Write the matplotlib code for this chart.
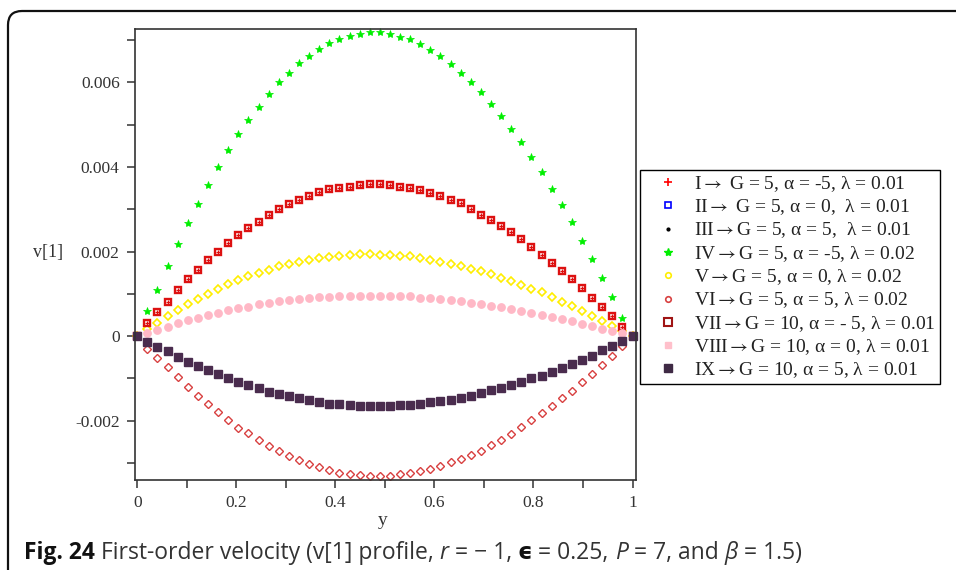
import numpy as np
import matplotlib
matplotlib.use("Agg")
import matplotlib.pyplot as plt
from matplotlib.lines import Line2D
from matplotlib.patches import PathPatch
from matplotlib.path import Path

plt.rcParams['font.family'] = ['Liberation Serif', 'DejaVu Serif']
plt.rcParams['mathtext.fontset'] = 'stix'

# y grid used by the solver (50 points on [0, 1])
y = np.linspace(0, 1, 50)

# v[1] values, in units of 1e-3
v_iv = np.array([0, 0.59, 1.08, 1.66, 2.18, 2.67, 3.13, 3.57, 4.00, 4.40,
                 4.79, 5.11, 5.43, 5.73, 6.00, 6.22, 6.45, 6.63, 6.79, 6.93,
                 7.02, 7.11, 7.15, 7.19, 7.19, 7.15, 7.08, 7.02, 6.90, 6.77,
                 6.63, 6.44, 6.23, 6.00, 5.77, 5.49, 5.21, 4.90, 4.58, 4.23,
                 3.87, 3.48, 3.09, 2.71, 2.24, 1.82, 1.37, 0.93, 0.42, 0]) * 1e-3
v_vii = np.array([0, 0.31, 0.56, 0.81, 1.10, 1.35, 1.57, 1.79, 2.00, 2.21,
                  2.40, 2.56, 2.71, 2.87, 3.01, 3.12, 3.23, 3.32, 3.41, 3.48,
                  3.51, 3.53, 3.57, 3.60, 3.60, 3.57, 3.53, 3.51, 3.45, 3.38,
                  3.31, 3.23, 3.15, 3.01, 2.86, 2.75, 2.61, 2.45, 2.30, 2.11,
                  1.92, 1.73, 1.55, 1.35, 1.13, 0.91, 0.69, 0.47, 0.21, 0]) * 1e-3
v_v = np.array([0, 0.16, 0.31, 0.47, 0.61, 0.76, 0.88, 0.99, 1.11, 1.22,
                1.33, 1.41, 1.50, 1.57, 1.66, 1.70, 1.76, 1.81, 1.85, 1.87,
                1.89, 1.92, 1.93, 1.93, 1.92, 1.92, 1.90, 1.89, 1.85, 1.81,
                1.76, 1.71, 1.66, 1.59, 1.54, 1.46, 1.38, 1.30, 1.21, 1.11,
                1.03, 0.92, 0.80, 0.71, 0.59, 0.47, 0.36, 0.24, 0.12, 0]) * 1e-3
v_viii = np.array([0, 0.08, 0.14, 0.21, 0.30, 0.37, 0.43, 0.49, 0.55, 0.61,
                   0.66, 0.69, 0.75, 0.79, 0.82, 0.85, 0.88, 0.90, 0.92, 0.93,
                   0.94, 0.95, 0.95, 0.95, 0.95, 0.95, 0.95, 0.94, 0.91, 0.89,
                   0.88, 0.85, 0.82, 0.79, 0.76, 0.72, 0.69, 0.65, 0.59, 0.55,
                   0.50, 0.45, 0.40, 0.35, 0.28, 0.23, 0.17, 0.12, 0.06, 0]) * 1e-3
v_ix = np.array([0, -0.14, -0.27, -0.36, -0.49, -0.62, -0.71, -0.80, -0.91, -1.00,
                 -1.10, -1.16, -1.22, -1.32, -1.38, -1.41, -1.47, -1.51, -1.57, -1.60,
                 -1.60, -1.63, -1.66, -1.66, -1.66, -1.65, -1.63, -1.63, -1.60, -1.57,
                 -1.54, -1.51, -1.47, -1.41, -1.35, -1.28, -1.22, -1.16, -1.10, -0.99,
                 -0.94, -0.85, -0.75, -0.66, -0.56, -0.47, -0.34, -0.24, -0.12, 0]) * 1e-3
v_vi = np.array([0, -0.30, -0.53, -0.74, -0.98, -1.20, -1.41, -1.62, -1.81, -1.98,
                 -2.17, -2.30, -2.46, -2.60, -2.72, -2.83, -2.93, -3.02, -3.11, -3.17,
                 -3.24, -3.26, -3.29, -3.31, -3.31, -3.31, -3.27, -3.25, -3.20, -3.15,
                 -3.08, -2.99, -2.91, -2.82, -2.71, -2.58, -2.45, -2.31, -2.15, -1.99,
                 -1.82, -1.65, -1.46, -1.30, -1.09, -0.91, -0.69, -0.48, -0.24, 0]) * 1e-3
# I, II and III sit on top of VII in the picture
v_i = v_vii
v_ii = v_vii
v_iii = v_vii

arr = r"$\rightarrow$"
labels = ["I" + arr + " G = 5, \u03b1 = -5, \u03bb = 0.01",
          "II" + arr + " G = 5, \u03b1 = 0,  \u03bb = 0.01",
          "III" + arr + "G = 5, \u03b1 = 5,  \u03bb = 0.01",
          "IV" + arr + "G = 5, \u03b1 = -5, \u03bb = 0.02",
          "V" + arr + "G = 5, \u03b1 = 0, \u03bb = 0.02",
          "VI" + arr + "G = 5, \u03b1 = 5, \u03bb = 0.02",
          "VII" + arr + "G = 10, \u03b1 = - 5, \u03bb = 0.01",
          "VIII" + arr + "G = 10, \u03b1 = 0, \u03bb = 0.01",
          "IX" + arr + "G = 10, \u03b1 = 5, \u03bb = 0.01"]

xticks = [0, 0.2, 0.4, 0.6, 0.8, 1]
xticklabels = ["0", "0.2", "0.4", "0.6", "0.8", "1"]
yticks = [-0.002, 0, 0.002, 0.004, 0.006]
yticklabels = ["-0.002", "0", "0.002", "0.004", "0.006"]

fig = plt.figure(figsize=(9.56, 5.70), dpi=100)
ax = fig.add_axes([135 / 956, 1 - 480 / 570, 501 / 956, 451 / 570])

red = '#dd1111'
kw = dict(linestyle='none', clip_on=False)
ax.plot(y, v_ii, marker='s', ms=3, mfc='none', mec='blue', mew=1, **kw)
ax.plot(y, v_iii, marker='.', ms=3, color='black', **kw)
ax.plot(y, v_iv, marker='*', ms=6, color='#00ee00', mew=0.5, **kw)
ax.plot(y, v_v, marker='D', ms=3.8, mfc='none', mec='#ffee00', mew=1.2, **kw)
ax.plot(y, v_vi, marker='D', ms=3.6, mfc='none', mec='#d84040', mew=1.0, **kw)
ax.plot(y, v_vii, marker='s', ms=4.5, mfc='white', mec=red, mew=1.7, **kw)
ax.plot(y, v_i, marker='+', ms=3.5, color=red, mew=0.9, **kw)
ax.plot(y, v_viii, marker='o', ms=5.3, color='#ffb8c6', mec='#ffb8c6', **kw)
ax.plot(y, v_ix, marker='s', ms=5.6, color='#4a2c4e', **kw)

ax.set_xlim(-0.0046, 1.007)
ax.set_ylim(-0.003408, 0.007266)
ax.set_xticks(xticks)
ax.set_xticklabels(xticklabels)
ax.set_yticks(yticks)
ax.set_yticklabels(yticklabels)
ax.set_xticks(np.arange(0.1, 1, 0.2), minor=True)
ax.set_yticks([-0.003, -0.001, 0.001, 0.003, 0.005, 0.007], minor=True)
ax.tick_params(which='both', direction='out', color='#333333', width=1.1,
               labelsize=12.5, labelcolor='#333333', top=False, right=False)
ax.tick_params(which='major', length=6, pad=5)
ax.tick_params(which='minor', length=6)
for s in ax.spines.values():
    s.set_color('#333333')
    s.set_linewidth(1.2)

ax.set_ylabel('v[1]', rotation=0, fontsize=13, color='#333333', ha='center', va='center')
ax.yaxis.set_label_coords(-0.174, 0.5055)
ax.set_xlabel('y', fontsize=14, color='#333333', ha='center', va='center')
ax.xaxis.set_label_coords(0.495, -0.089)

handles = [
    Line2D([], [], ls='none', marker='+', ms=6, color='red', mew=1.2),
    Line2D([], [], ls='none', marker='s', ms=4, mfc='none', mec='blue', mew=1.2),
    Line2D([], [], ls='none', marker='.', ms=4, color='black'),
    Line2D([], [], ls='none', marker='*', ms=6, color='#00ee00'),
    Line2D([], [], ls='none', marker='o', ms=4, mfc='none', mec='#ffee00', mew=1.2),
    Line2D([], [], ls='none', marker='o', ms=4, mfc='none', mec='#d84040', mew=1.2),
    Line2D([], [], ls='none', marker='s', ms=6, mfc='none', mec='#a01515', mew=1.5),
    Line2D([], [], ls='none', marker='s', ms=5, color='#ffc0cb'),
    Line2D([], [], ls='none', marker='s', ms=6, color='#3f2a45'),
]
leg = fig.legend(handles, labels, loc='upper left',
                 bbox_to_anchor=(640 / 956, 1 - 170 / 570),
                 bbox_transform=fig.transFigure, fontsize=14, frameon=True,
                 fancybox=False, edgecolor='black', framealpha=1,
                 handlelength=2.5, handletextpad=0.1, labelspacing=0.18,
                 borderpad=0.2, borderaxespad=0, numpoints=1)
leg.get_frame().set_linewidth(1.0)
for t in leg.get_texts():
    t.set_color('#222222')

# outer frame of the figure panel: rounded top-left corner, runs off right and bottom
x0, y1 = 8 / 956, 1 - 11 / 570
rx, ry = 14 / 956, 14 / 570
verts = [(x0, -0.1), (x0, y1 - ry), (x0, y1), (x0 + rx, y1), (1.1, y1)]
codes = [Path.MOVETO, Path.LINETO, Path.CURVE3, Path.CURVE3, Path.LINETO]
frame = PathPatch(Path(verts, codes), transform=fig.transFigure, fill=False,
                  edgecolor='#111111', linewidth=1.6, clip_on=False)
fig.add_artist(frame)

# caption, drawn piece by piece
cap_fam = ['Open Sans', 'DejaVu Sans']
pieces = [("Fig. 24", 'bold', 'normal', '#111111'),
          (" First-order velocity (v[1] profile, ", 'normal', 'normal', '#333333'),
          ("r", 'normal', 'italic', '#333333'),
          (" = \u2212 1, ", 'normal', 'normal', '#333333'),
          ("\u03f5", 'bold', 'normal', '#111111'),
          (" = 0.25, ", 'normal', 'normal', '#333333'),
          ("P", 'normal', 'italic', '#333333'),
          (" = 7, and ", 'normal', 'normal', '#333333'),
          ("\u03b2", 'normal', 'italic', '#333333'),
          (" = 1.5)", 'normal', 'normal', '#333333')]
fig.canvas.draw()
renderer = fig.canvas.get_renderer()
xpos = 24 / 956
for txt, wt, st, col in pieces:
    t = fig.text(xpos, 1 - 553 / 570, txt, fontsize=16.5, family=cap_fam,
                 weight=wt, style=st, color=col, va='center', ha='left')
    bb = t.get_window_extent(renderer)
    xpos += bb.width / fig.bbox.width

fig.savefig('out.png', dpi=100)
